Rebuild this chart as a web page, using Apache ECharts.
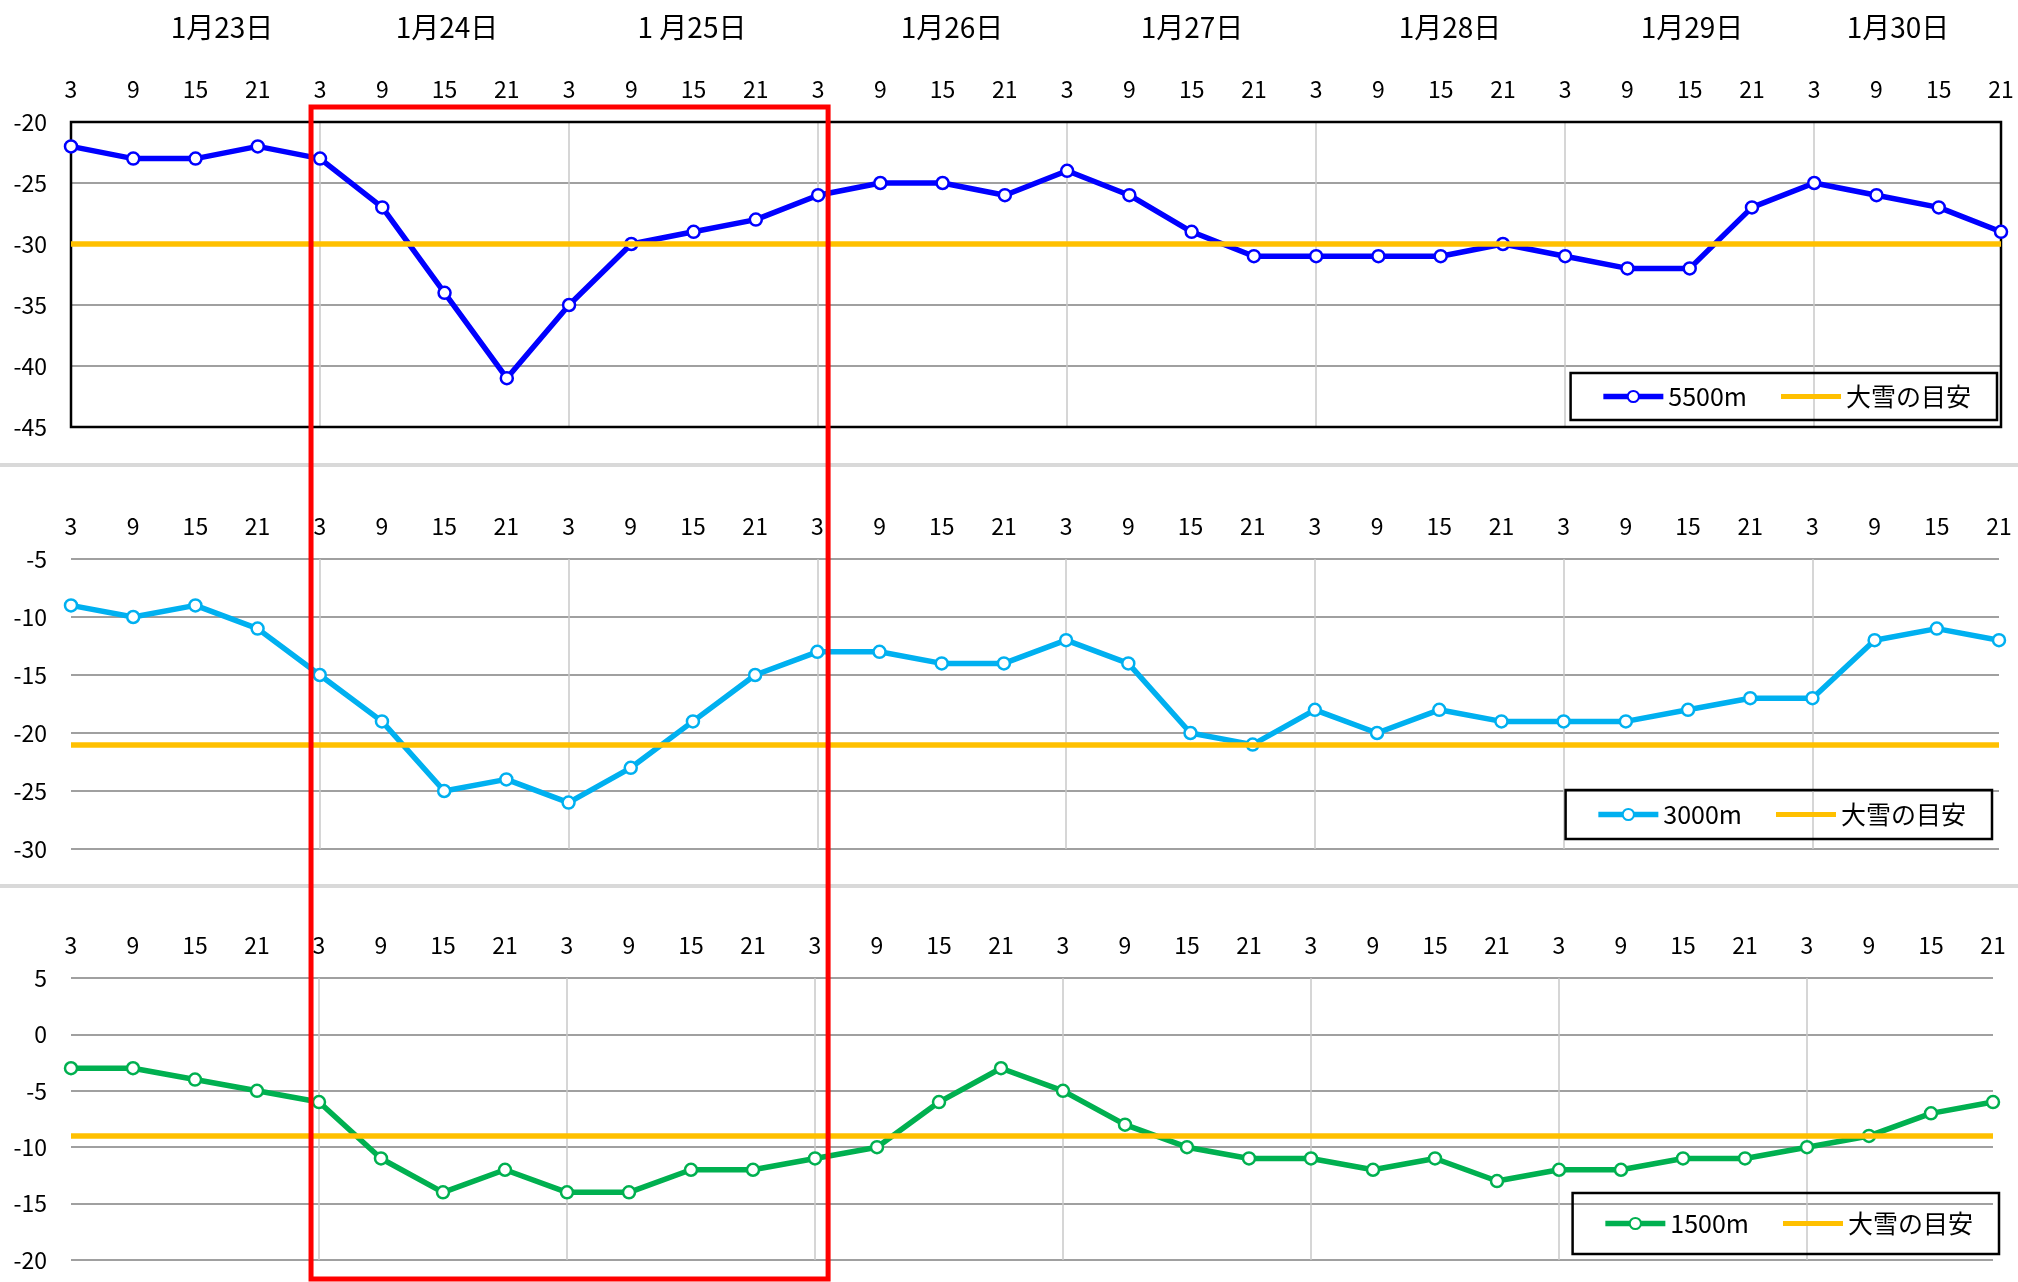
<!DOCTYPE html>
<html>
<head>
<meta charset="utf-8">
<script src="https://cdn.jsdelivr.net/npm/echarts@6/dist/echarts.min.js"></script>
<style>
  html, body { margin: 0; padding: 0; background: #fff; }
  #chart { width: 2018px; height: 1282px; }
</style>
</head>
<body>
<div id="chart"></div>
<script>
// 日付と時刻
const days = ['1月23日', '1月24日', '1 月25日', '1月26日', '1月27日', '1月28日', '1月29日', '1月30日'];
const hours = [3, 9, 15, 21];

// 上空の気温 (℃)
const t5500 = [-22, -23, -23, -22, -23, -27, -34, -41, -35, -30, -29, -28, -26, -25, -25, -26,
               -24, -26, -29, -31, -31, -31, -31, -30, -31, -32, -32, -27, -25, -26, -27, -29];
const t3000 = [-9, -10, -9, -11, -15, -19, -25, -24, -26, -23, -19, -15, -13, -13, -14, -14,
               -12, -14, -20, -21, -18, -20, -18, -19, -19, -19, -18, -17, -17, -12, -11, -12];
const t1500 = [-3, -3, -4, -5, -6, -11, -14, -12, -14, -14, -12, -12, -11, -10, -6, -3,
               -5, -8, -10, -11, -11, -12, -11, -13, -12, -12, -11, -11, -10, -9, -7, -6];

// 大雪の目安
const snow5500 = -30;
const snow3000 = -21;
const snow1500 = -9;

// 日付ラベルの位置 (レイアウト用)
const dayLabelX = [222, 447, 692, 952, 1192, 1450, 1692, 1898];

const FONT = '"Noto Sans CJK JP", "Noto Sans", sans-serif';
const cats = days.flatMap(d => hours.map(h => d + h + '時'));
const barIcon = 'path://M0,0 L60,0 L60,5 L0,5 Z';

const grids = [
  { left: 71, right: 17, top: 122, height: 305 },
  { left: 71, right: 19, top: 559, height: 290 },
  { left: 71, right: 25, top: 978, height: 282 }
];

function xAxisFor(i) {
  return {
    type: 'category', gridIndex: i, data: cats, boundaryGap: false, position: 'top',
    axisLine: { show: false }, axisTick: { show: false },
    axisLabel: {
      interval: 0, margin: 21, fontSize: 23, color: '#000', fontFamily: FONT,
      formatter: (v, idx) => String(hours[idx % 4])
    },
    splitLine: {
      show: true,
      interval: (idx) => idx > 0 && idx % 4 === 0,
      lineStyle: { color: '#c8c8c8', width: 1.5 }
    }
  };
}

function yAxisFor(i, min, max) {
  return {
    type: 'value', gridIndex: i, min: min, max: max, interval: 5,
    axisLine: { show: false }, axisTick: { show: false },
    axisLabel: { margin: 24, fontSize: 23, color: '#000', fontFamily: FONT },
    splitLine: { lineStyle: { color: '#808080', width: 1.5 } }
  };
}

function tempSeries(i, name, values, color) {
  return {
    name: name, type: 'line', xAxisIndex: i, yAxisIndex: i, data: values,
    symbol: 'circle', symbolSize: 12, showAllSymbol: true, z: 4,
    lineStyle: { color: color, width: 5.5 },
    itemStyle: { color: '#fff', borderColor: color, borderWidth: 2.5 },
    emphasis: { disabled: true }
  };
}

function snowSeries(i, value) {
  return {
    name: '大雪の目安', type: 'line', xAxisIndex: i, yAxisIndex: i, data: [],
    symbol: 'none', z: 3,
    lineStyle: { color: '#ffc000', width: 5 },
    itemStyle: { color: '#ffc000' },
    markLine: {
      silent: true, symbol: 'none', label: { show: false },
      lineStyle: { color: '#ffc000', width: 5.5, type: 'solid' },
      data: [{ yAxis: value }]
    }
  };
}

function legendFor(name, top, right, padV) {
  return {
    data: [name, { name: '大雪の目安', icon: barIcon }], top: top, right: right,
    orient: 'horizontal', selectedMode: false,
    itemWidth: 60, itemHeight: 14, itemGap: 34,
    padding: [padV, 26, padV, 30],
    borderColor: '#000', borderWidth: 2.5,
    lineStyle: { width: 5.5 },
    textStyle: { fontSize: 25, color: '#000', fontFamily: FONT }
  };
}

const dayTexts = days.map((d, k) => ({
  type: 'text', x: dayLabelX[k], y: 27,
  style: { text: d, fontSize: 28, fill: '#000', fontFamily: FONT, align: 'center', verticalAlign: 'middle' }
}));
const separators = [465, 886].map(y => ({
  type: 'rect', shape: { x: 0, y: y - 2, width: 2018, height: 4 },
  style: { fill: '#d9d9d9' }, silent: true
}));

const chart = echarts.init(document.getElementById('chart'));
const option = {
  animation: false,
  backgroundColor: '#fff',
  grid: grids,
  xAxis: [xAxisFor(0), xAxisFor(1), xAxisFor(2)],
  yAxis: [yAxisFor(0, -45, -20), yAxisFor(1, -30, -5), yAxisFor(2, -20, 5)],
  legend: [
    legendFor('5500m', 373, 21, 11),
    legendFor('3000m', 790, 26, 12),
    legendFor('1500m', 1193, 19, 18)
  ],
  series: [
    tempSeries(0, '5500m', t5500, '#0000ff'),
    snowSeries(0, snow5500),
    tempSeries(1, '3000m', t3000, '#00b0f0'),
    snowSeries(1, snow3000),
    tempSeries(2, '1500m', t1500, '#00b050'),
    snowSeries(2, snow1500)
  ],
  graphic: dayTexts.concat(separators)
};
chart.setOption(option);

// 上段の外枠 (軸の範囲から)
const tl = chart.convertToPixel({ gridIndex: 0 }, [0, -20]);
const br = chart.convertToPixel({ gridIndex: 0 }, [cats.length - 1, -45]);
const frame = {
  type: 'rect', z: 2, silent: true,
  shape: { x: tl[0], y: tl[1], width: br[0] - tl[0], height: br[1] - tl[1] },
  style: { fill: 'none', stroke: '#000', lineWidth: 2.5 }
};

// 注目期間 (1月24日3時〜1月26日3時) の赤枠
const x0 = chart.convertToPixel({ xAxisIndex: 0 }, 4) - 9;
const x1 = chart.convertToPixel({ xAxisIndex: 0 }, 12) + 10;
const redBox = {
  type: 'rect', z: 100, silent: true,
  shape: { x: x0, y: 107, width: x1 - x0, height: 1172 },
  style: { fill: 'none', stroke: '#ff0000', lineWidth: 5 }
};
chart.setOption({ graphic: dayTexts.concat(separators, [frame, redBox]) });
</script>
</body>
</html>
